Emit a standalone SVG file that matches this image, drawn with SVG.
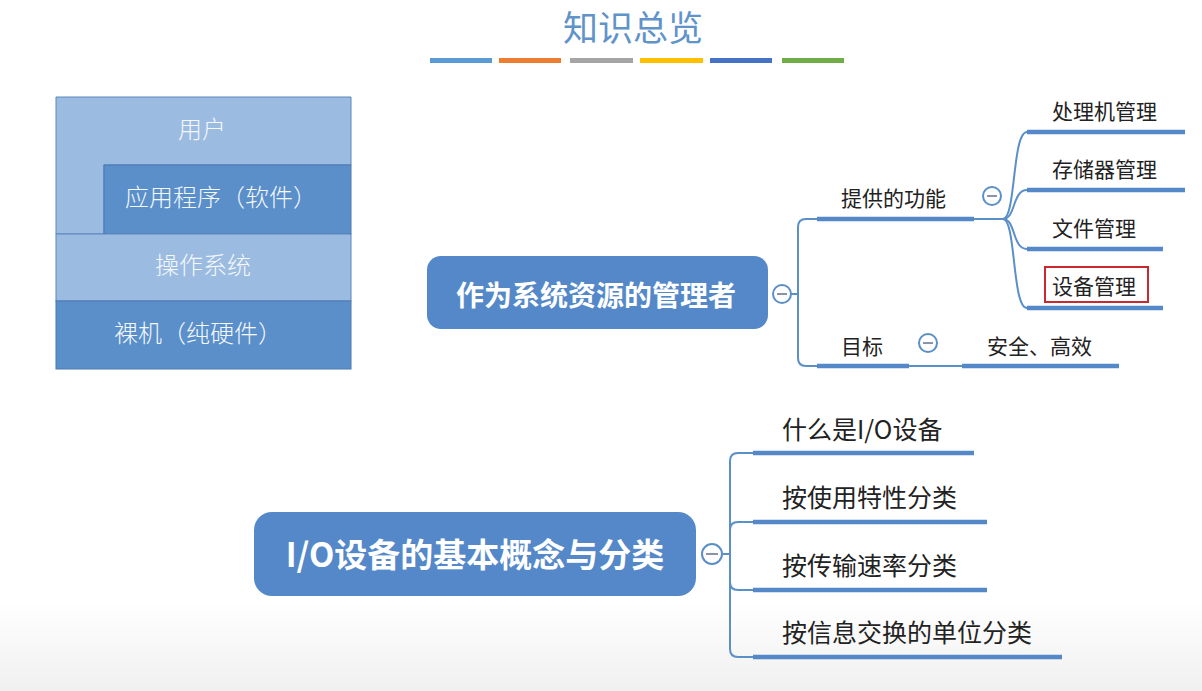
<svg xmlns="http://www.w3.org/2000/svg" width="1202" height="691" viewBox="0 0 1202 691">
<defs>
<linearGradient id="bg" x1="0" y1="0" x2="0" y2="1">
<stop offset="0" stop-color="#ffffff"/>
<stop offset="0.87" stop-color="#ffffff"/>
<stop offset="1" stop-color="#f0f0f0"/>
</linearGradient>
<style>
.t{font-family:"Noto Sans CJK SC","Noto Sans",sans-serif}
.title{font-size:35px;fill:#5f93ca;text-anchor:middle}
.lay{font-size:24px;fill:#f4f7fc;text-anchor:middle;font-weight:300}
.main{font-size:28px;fill:#ffffff;font-weight:bold;text-anchor:middle}
.main2{font-size:33px;fill:#ffffff;font-weight:bold;text-anchor:middle}
.lbl{font-size:21px;fill:#222222}
.lbl2{font-size:25px;fill:#222222}
.ul{stroke:#5588c8;stroke-width:4.5;fill:none}
.cn{stroke:#5b8fc7;stroke-width:2;fill:none}
.col{fill:#ffffff;stroke:#5b8fc7;stroke-width:2}
.minus{stroke:#8a93a8;stroke-width:2}
.lt{fill:#9bbce0;stroke:#5a86bd;stroke-width:1}
.dk{fill:#5a8fca;stroke:#4a78b2;stroke-width:1}
.node{fill:#5488c8}
</style>
</defs>
<rect x="0" y="0" width="1202" height="691" fill="url(#bg)"/>

<g id="title">
<text class="t title" x="633" y="41">知识总览</text>
<rect x="430" y="58" width="62" height="5" fill="#5b9bd5"/>
<rect x="499" y="58" width="62" height="5" fill="#ed7d31"/>
<rect x="570" y="58" width="63" height="5" fill="#a5a5a5"/>
<rect x="640" y="58" width="63" height="5" fill="#ffc000"/>
<rect x="710" y="58" width="62" height="5" fill="#4472c4"/>
<rect x="782" y="58" width="62" height="5" fill="#70ad47"/>
</g>

<g id="layers">
<path class="lt" d="M56 97 H351 V165 H104 V234 H56 Z"/>
<rect class="dk" x="104" y="165" width="247" height="69"/>
<rect class="lt" x="56" y="234" width="295" height="67"/>
<rect class="dk" x="56" y="301" width="295" height="68"/>
<text class="t lay" x="202" y="138">用户</text>
<text class="t lay" x="221" y="206">应用程序（软件）</text>
<text class="t lay" x="203" y="274">操作系统</text>
<text class="t lay" x="198" y="342">裸机（纯硬件）</text>
</g>

<g id="connectors">
<path class="cn" d="M790 294 H798"/>
<path class="cn" d="M817 219 H806 Q798 219 798 227 V358 Q798 366 806 366 H817"/>
<path class="cn" d="M974 219 H1003"/>
<path class="cn" d="M1003 219 C1016 219 1012 132 1027 132"/>
<path class="cn" d="M1003 219 C1016 219 1012 190 1027 190"/>
<path class="cn" d="M1003 219 C1016 219 1012 249 1027 249"/>
<path class="cn" d="M1003 219 C1016 219 1012 308 1027 308"/>
<path class="cn" d="M909 366 H962"/>
<path class="cn" d="M722 554 H730"/>
<path class="cn" d="M753 453 H738 Q730 453 730 461 V649 Q730 657 738 657 H753"/>
<path class="cn" d="M730 530 Q730 522 738 522 H753"/>
<path class="cn" d="M730 582 Q730 590 738 590 H753"/>
</g>

<g id="node-manager">
<rect class="node" x="427" y="256" width="341" height="73" rx="14"/>
<text class="t main" x="596" y="306">作为系统资源的管理者</text>
<circle class="col" cx="782" cy="294" r="9"/>
<line class="minus" x1="777" y1="294" x2="787" y2="294"/>
</g>

<g id="node-func">
<text class="t lbl" x="841" y="206">提供的功能</text>
<line class="ul" x1="817" y1="219" x2="974" y2="219"/>
<circle class="col" cx="992" cy="196" r="9"/>
<line class="minus" x1="987" y1="196" x2="997" y2="196"/>
</g>

<g id="node-cpu">
<text class="t lbl" x="1052" y="119">处理机管理</text>
<line class="ul" x1="1027" y1="132" x2="1185" y2="132"/>
</g>
<g id="node-mem">
<text class="t lbl" x="1052" y="177">存储器管理</text>
<line class="ul" x1="1027" y1="190" x2="1185" y2="190"/>
</g>
<g id="node-file">
<text class="t lbl" x="1052" y="236">文件管理</text>
<line class="ul" x1="1027" y1="249" x2="1163" y2="249"/>
</g>
<g id="node-dev">
<rect x="1045" y="267" width="103" height="35" fill="#ffffff" stroke="#c8282e" stroke-width="2"/>
<text class="t lbl" x="1052" y="294">设备管理</text>
<line class="ul" x1="1027" y1="308" x2="1163" y2="308"/>
</g>

<g id="node-goal">
<text class="t lbl" x="841" y="354">目标</text>
<line class="ul" x1="817" y1="366" x2="909" y2="366"/>
<circle class="col" cx="928" cy="343" r="9"/>
<line class="minus" x1="923" y1="343" x2="933" y2="343"/>
</g>
<g id="node-safe">
<text class="t lbl" x="987" y="354">安全、高效</text>
<line class="ul" x1="962" y1="366" x2="1119" y2="366"/>
</g>

<g id="node-io">
<rect class="node" x="254" y="512" width="442" height="84" rx="18"/>
<text class="t main2" x="475" y="567">I/O设备的基本概念与分类</text>
<circle class="col" cx="712" cy="554" r="10"/>
<line class="minus" x1="706" y1="554" x2="718" y2="554"/>
</g>

<g id="node-what">
<text class="t lbl2" x="782" y="439">什么是I/O设备</text>
<line class="ul" x1="753" y1="453" x2="974" y2="453"/>
</g>
<g id="node-use">
<text class="t lbl2" x="782" y="507">按使用特性分类</text>
<line class="ul" x1="753" y1="522" x2="987" y2="522"/>
</g>
<g id="node-rate">
<text class="t lbl2" x="782" y="575">按传输速率分类</text>
<line class="ul" x1="753" y1="590" x2="987" y2="590"/>
</g>
<g id="node-unit">
<text class="t lbl2" x="782" y="642">按信息交换的单位分类</text>
<line class="ul" x1="753" y1="657" x2="1062" y2="657"/>
</g>
</svg>
